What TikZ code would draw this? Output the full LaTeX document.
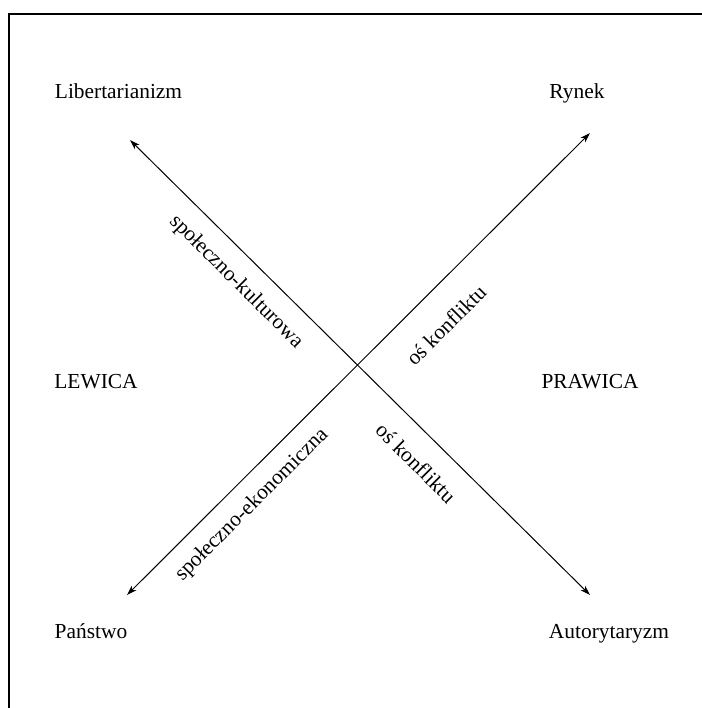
\documentclass[tikz,border=0pt]{standalone}
\usepackage{fontspec}
\setmainfont{Liberation Serif}
\usetikzlibrary{arrows.meta}
\begin{document}
\begin{tikzpicture}[x=0.5pt,y=-0.5pt,
  lbl/.style={font=\fontsize{10.7}{13}\selectfont, inner sep=0pt, anchor=base},
  axlbl/.style={font=\fontsize{10.7}{13}\selectfont, inner sep=0pt, anchor=center},
  axis/.style={line width=0.5pt, {Stealth[length=5pt,width=3.2pt]}-{Stealth[length=5pt,width=3.2pt]}},
  frame/.style={line width=0.8pt}]
\useasboundingbox (0,0) rectangle (702,708);
\clip (0,0) rectangle (702,708);
\fill[white] (0,0) rectangle (702,708);
\draw[frame] (9,14) rectangle (720,730);
% end points
\coordinate (lt) at (130,140);
\coordinate (rb) at (590,595);
\coordinate (lb) at (127,595);
\coordinate (rt) at (590,133);
% corner labels
\node[lbl] (lib) at (118.5,98) {Libertarianizm};
\node[lbl] (ryn) at (577,98) {Rynek};
\node[lbl] (lew) at (96,388) {LEWICA};
\node[lbl] (pra) at (590,388) {PRAWICA};
\node[lbl] (pan) at (91,638) {Państwo};
\node[lbl] (aut) at (609,638) {Autorytaryzm};
% axes
\draw[axis] (lt) -- (rb);
\draw[axis] (lb) -- (rt);
% axis labels
\node[axlbl, rotate=-45] (sk) at (236,282) {społeczno-kulturowa};
\node[axlbl, rotate=-45] (ok1) at (416,463) {oś konfliktu};
\node[axlbl, rotate=45] (se) at (252,505) {społeczno-ekonomiczna};
\node[axlbl, rotate=45] (ok2) at (446,325) {oś konfliktu};
\end{tikzpicture}
\end{document}
